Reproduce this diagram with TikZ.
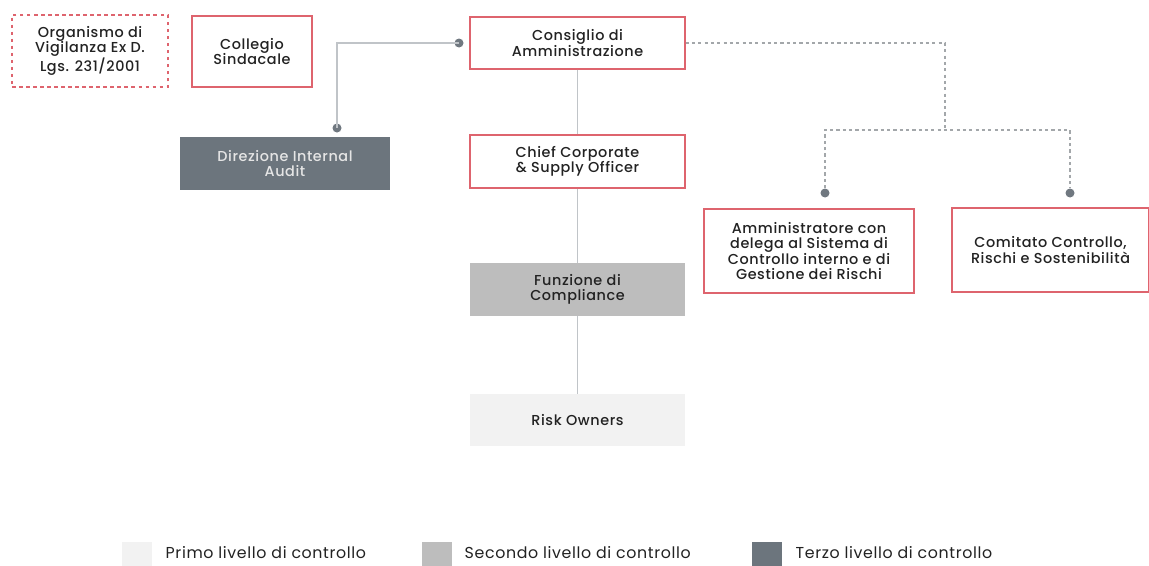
\documentclass[tikz,border=0pt]{standalone}
\usepackage{fontspec}
\usetikzlibrary{positioning}
\setmainfont{Poppins}
\newfontfamily\boxfont{Poppins Medium}[LetterSpace=4]
\newfontfamily\legfont{Poppins}[LetterSpace=4]
\definecolor{boxred}{RGB}{222,100,110}
\definecolor{lvlone}{RGB}{242,242,242}
\definecolor{lvltwo}{RGB}{189,189,189}
\definecolor{lvlthree}{RGB}{108,117,125}
\definecolor{linegray}{RGB}{192,196,200}
\definecolor{dotgray}{RGB}{112,120,128}
\definecolor{txtdark}{RGB}{34,34,34}

\begin{document}
\begin{tikzpicture}[x=0.02cm,y=-0.02cm,
	unit/.style={inner sep=0pt,align=center,text=txtdark,
		font=\boxfont\fontsize{8.2}{8.8}\selectfont},
	redbox/.style={unit,draw=boxred,line width=0.7pt,fill=white},
	fillbox/.style={unit,fill=#1},
	dot/.style={circle,fill=dotgray,inner sep=0pt,minimum size=0.18cm},
	solidline/.style={draw=linegray,line width=1pt},
	dotline/.style={draw=linegray!85!black,line width=0.8pt,dash pattern=on 1.8pt off 1.8pt},
	legsq/.style={minimum width=0.6cm,minimum height=0.6cm,inner sep=0pt,fill=#1},
	legtxt/.style={inner sep=0pt,text=txtdark,font=\legfont\fontsize{9}{10}\selectfont}]
	\useasboundingbox[fill=white] (0,0) rectangle (1149,565);
	% boxes
	\node[redbox,dashed,dash pattern=on 2pt off 2pt,minimum width=3.12cm,minimum height=1.44cm](org) at (90,51) {Organismo di\\Vigilanza Ex D.\\Lgs. 231/2001};
	\node[redbox,minimum width=2.4cm,minimum height=1.42cm](coll) at (252,51.5) {Collegio\\Sindacale};
	\node[redbox,minimum width=4.3cm,minimum height=1.04cm](cda) at (577.5,43) {Consiglio di\\Amministrazione};
	\node[fillbox=lvlthree,text=white!90!black,minimum width=4.2cm,minimum height=1.06cm](dia) at (285,163.5) {Direzione Internal\\Audit};
	\node[redbox,minimum width=4.3cm,minimum height=1.06cm](ccso) at (577.5,161.5) {Chief Corporate\\\& Supply Officer};
	\node[fillbox=lvltwo,minimum width=4.3cm,minimum height=1.06cm](comp) at (577.5,289.5) {Funzione di\\Compliance};
	\node[fillbox=lvlone,minimum width=4.3cm,minimum height=1.04cm](risk) at (577.5,420) {Risk Owners};
	\node[redbox,minimum width=4.2cm,minimum height=1.68cm](amm) at (809,251) {Amministratore con\\delega al Sistema di\\Controllo interno e di\\Gestione dei Rischi};
	\node[redbox,minimum width=3.94cm,minimum height=1.68cm](ccrs) at (1050.5,250) {Comitato Controllo,\\Rischi e Sostenibilit\`a};
	% dots and joints
	\node[dot](cdadot) at (459,43) {};
	\node[dot](diadot) at (337,128) {};
	\node[dot](ammdot) at (825,193) {};
	\node[dot](ccrsdot) at (1070,193) {};
	\coordinate (split) at (945,130);
	% connectors
	\draw[solidline] (cdadot.center) -| (diadot.center);
	\draw[solidline] (cda.south) -- (ccso.north);
	\draw[solidline] (ccso.south) -- (comp.north);
	\draw[solidline] (comp.south) -- (risk.north);
	\draw[dotline] (cda.east) -| (split);
	\draw[dotline] (ammdot) -- (ammdot |- split) -- (ccrsdot |- split) -- (ccrsdot);
	% legend
	\node[legsq=lvlone](sq1) at (137,557) {};
	\node[legsq=lvltwo](sq2) at (437,557) {};
	\node[legsq=lvlthree](sq3) at (767,557) {};
	\node[legtxt,anchor=west](lab1) at ([xshift=0.26cm,yshift=0.08cm]sq1.east) {Primo livello di controllo};
	\node[legtxt,anchor=west](lab2) at ([xshift=0.24cm,yshift=0.08cm]sq2.east) {Secondo livello di controllo};
	\node[legtxt,anchor=west](lab3) at ([xshift=0.26cm,yshift=0.08cm]sq3.east) {Terzo livello di controllo};
\end{tikzpicture}
\end{document}
